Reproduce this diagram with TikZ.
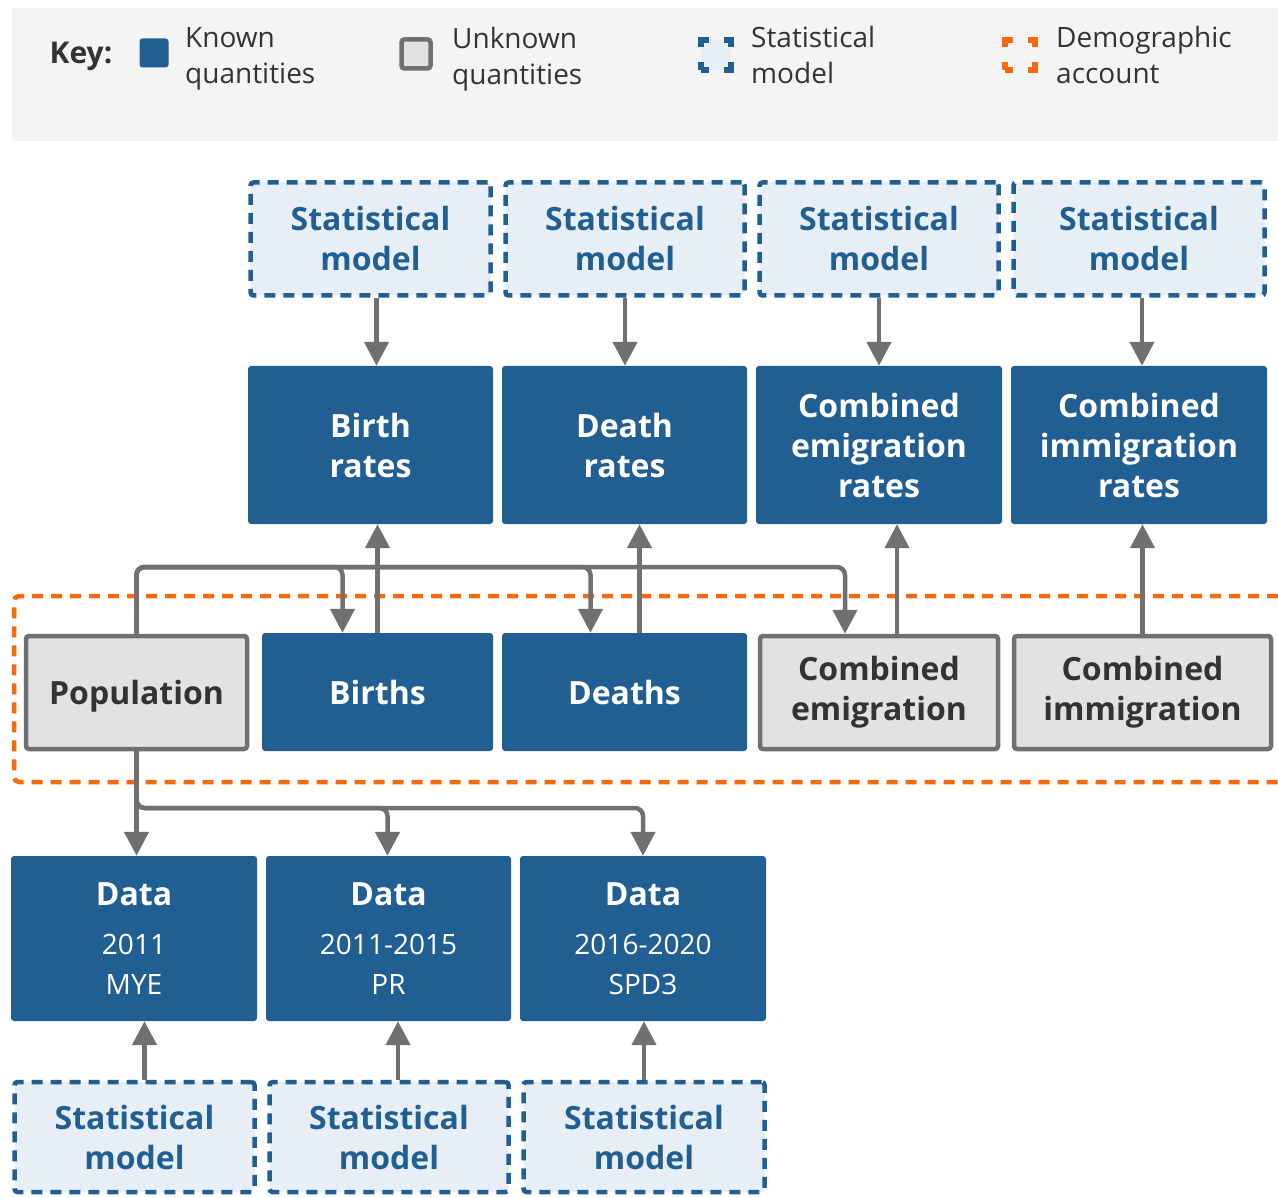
\documentclass[tikz,border=0pt]{standalone}
\usepackage{fontspec}
\setmainfont{Open Sans}
\usepackage{tikz}
\usetikzlibrary{arrows.meta}

\definecolor{knownblue}{HTML}{215F93}
\definecolor{statfill}{HTML}{E8EEF5}
\definecolor{unkfill}{HTML}{E2E2E2}
\definecolor{linegray}{HTML}{707070}
\definecolor{acctorange}{HTML}{FA6A0A}
\definecolor{keyfill}{HTML}{F4F4F4}
\definecolor{darktext}{HTML}{333333}

\begin{document}
\begin{tikzpicture}[x=1pt,y=-1pt,
    boxfont/.style={font=\bfseries\fontsize{32}{40}\selectfont},
    known/.style={boxfont, fill=knownblue, rounded corners=3pt, text=white, align=center, inner sep=0pt},
    unknown/.style={boxfont, fill=unkfill, draw=linegray, line width=4.5pt, rounded corners=3pt, text=darktext, align=center, inner sep=0pt},
    statbox/.style={boxfont, fill=statfill, draw=knownblue, line width=4.5pt, dash pattern=on 11pt off 8pt, rounded corners=3pt, text=knownblue, align=center, inner sep=0pt},
    databox/.style={known, font=\fontsize{28}{40}\selectfont},
    keytext/.style={anchor=west, align=left, text=darktext, font=\fontsize{28}{36}\selectfont, inner sep=0pt},
    keyicon/.style={line width=6pt, dash pattern=on 15pt off 15pt, dash phase=7.5pt, minimum size=30pt, inner sep=0pt},
    arr/.style={draw=linegray, line width=4.5pt, -{Triangle[length=24pt,width=24pt]}},
    bus/.style={arr, rounded corners=8pt}]
    \useasboundingbox (0,0) rectangle (1278,1198);

    %Shape: Key background
    \fill [keyfill] (12,8) rectangle (1278,141);
    % Text Node
    \node [anchor=center, text=darktext, font=\bfseries\fontsize{30}{36}\selectfont] (keylbl) at (81,56) {Key:};
    \node [fill=knownblue, rounded corners=3pt, minimum size=29pt, inner sep=0pt] (keyknown) at (154,53) {};
    \node [keytext] (keyknowntxt) at (185,59) {Known\\quantities};
    \node [fill=unkfill, draw=linegray, line width=4.5pt, rounded corners=3pt, minimum size=29pt, inner sep=0pt] (keyunk) at (416,54) {};
    \node [keytext] (keyunktxt) at (452,59) {Unknown\\quantities};
    \node [keyicon, fill=statfill, draw=knownblue] (keystat) at (716,55) {};
    \node [keytext] (keystattxt) at (751,55) {Statistical\\model};
    \node [keyicon, draw=acctorange] (keyacct) at (1020,55) {};
    \node [keytext] (keyaccttxt) at (1056,55) {Demographic\\account};

    %Shape: Demographic account (open at the right edge)
    \draw [acctorange, line width=4.5pt, dash pattern=on 11pt off 8pt, rounded corners=5pt] (1278,596) -- (14,596) -- (14,782) -- (1278,782);

    %Top statistical models
    \node [statbox, minimum width=240pt, minimum height=113pt] (smb) at (370.5,239) {Statistical\\model};
    \node [statbox, minimum width=239pt, minimum height=113pt] (smd) at (625,239) {Statistical\\model};
    \node [statbox, minimum width=239pt, minimum height=113pt] (sme) at (879,239) {Statistical\\model};
    \node [statbox, minimum width=251pt, minimum height=113pt] (smi) at (1139,239) {Statistical\\model};

    %Rates
    \node [known, minimum width=245pt, minimum height=158pt] (brate) at (370.5,445) {Birth\\rates};
    \node [known, minimum width=245pt, minimum height=158pt] (drate) at (624.5,445) {Death\\rates};
    \node [known, minimum width=246pt, minimum height=158pt] (erate) at (879,445) {Combined\\emigration\\rates};
    \node [known, minimum width=256pt, minimum height=158pt] (irate) at (1139,445) {Combined\\immigration\\rates};

    %Demographic account members
    \node [unknown, text depth=0pt, minimum width=221pt, minimum height=113pt] (pop) at (136.5,692.5) {Population};
    \node [known, minimum width=231pt, minimum height=118pt] (births) at (377.5,692) {Births};
    \node [known, minimum width=245pt, minimum height=118pt] (deaths) at (624.5,692) {Deaths};
    \node [unknown, minimum width=238pt, minimum height=113pt] (cemig) at (879,692.5) {Combined\\emigration};
    \node [unknown, minimum width=257pt, minimum height=113pt] (cimmig) at (1142.5,692.5) {Combined\\immigration};

    %Data
    \node [databox, minimum width=246pt, minimum height=165pt] (dmye) at (134,938.5) {{\bfseries\fontsize{32}{40}\selectfont Data}\\[9pt]2011\\MYE};
    \node [databox, minimum width=245pt, minimum height=165pt] (dpr) at (388.5,938.5) {{\bfseries\fontsize{32}{40}\selectfont Data}\\[9pt]2011-2015\\PR};
    \node [databox, minimum width=246pt, minimum height=165pt] (dspd) at (643,938.5) {{\bfseries\fontsize{32}{40}\selectfont Data}\\[9pt]2016-2020\\SPD3};

    %Bottom statistical models
    \node [statbox, minimum width=240pt, minimum height=110pt] (smmye) at (134.5,1137) {Statistical\\model};
    \node [statbox, minimum width=239pt, minimum height=110pt] (smpr) at (389,1137) {Statistical\\model};
    \node [statbox, minimum width=241pt, minimum height=110pt] (smspd) at (644,1137) {Statistical\\model};

    %Arrows: models to rates
    \draw [arr] ([xshift=6pt]smb.south) -- ([xshift=6pt]smb.south |- brate.north);
    \draw [arr] (smd.south) -- (smd.south |- drate.north);
    \draw [arr] (sme.south) -- (sme.south |- erate.north);
    \draw [arr] ([xshift=3pt]smi.south) -- ([xshift=3pt]smi.south |- irate.north);

    %Arrows: components up to rates
    \draw [arr] (births.north) -- (births.north |- brate.south);
    \draw [arr] ([xshift=15pt]deaths.north) -- ([xshift=15pt]deaths.north |- drate.south);
    \draw [arr] ([xshift=18pt]cemig.north) -- ([xshift=18pt]cemig.north |- erate.south);
    \draw [arr] (cimmig.north) -- (cimmig.north |- irate.south);

    %Population feeding the account
    \coordinate (upbus) at (0,567);
    \draw [bus] (pop.north) |- ([xshift=-35pt]births.north |- upbus) -- ([xshift=-35pt]births.north);
    \draw [bus] (pop.north) |- ([xshift=-34pt]deaths.north |- upbus) -- ([xshift=-34pt]deaths.north);
    \draw [bus] (pop.north) |- ([xshift=-34pt]cemig.north |- upbus) -- ([xshift=-34pt]cemig.north);

    %Population to data
    \coordinate (downbus) at (0,808);
    \draw [arr] (pop.south) -- (pop.south |- dmye.north);
    \draw [bus] (pop.south) |- ([xshift=-1pt]dpr.north |- downbus) -- ([xshift=-1pt]dpr.north);
    \draw [bus] (pop.south) |- (dspd.north |- downbus) -- (dspd.north);

    %Arrows: models to data
    \draw [arr] ([xshift=10pt]smmye.north) -- ([xshift=10pt]smmye.north |- dmye.south);
    \draw [arr] ([xshift=9pt]smpr.north) -- ([xshift=9pt]smpr.north |- dpr.south);
    \draw [arr] (smspd.north) -- (smspd.north |- dspd.south);
\end{tikzpicture}
\end{document}
